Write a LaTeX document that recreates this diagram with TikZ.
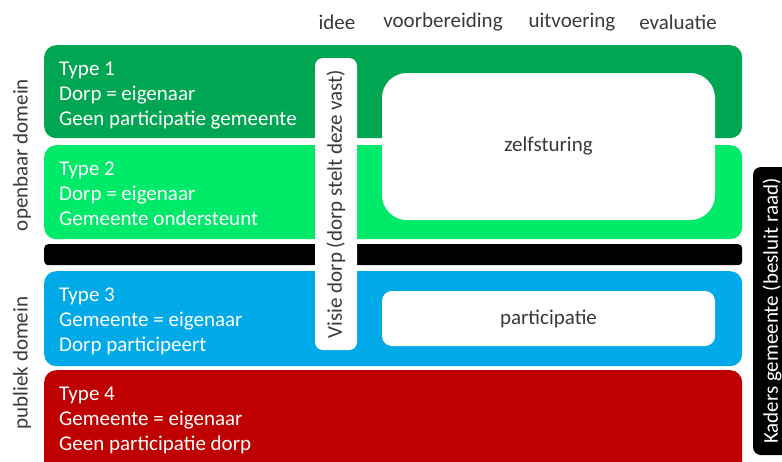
\documentclass[tikz,border=0pt]{standalone}
\usepackage{fontspec}
\setmainfont{Carlito}
\usepackage{tikz}
\usetikzlibrary{positioning}
\definecolor{typeone}{HTML}{00A651}
\definecolor{typetwo}{HTML}{00EA6A}
\definecolor{typethree}{HTML}{00AAE8}
\definecolor{typefour}{HTML}{BE0000}
\definecolor{txtgray}{HTML}{3A3A3A}
\tikzset{
  band/.style={rounded corners=12pt,minimum width=698pt,anchor=north west,inner sep=0pt},
  bandtxt/.style={anchor=north west,align=left,inner sep=0pt,text=white,font=\fontsize{21}{25}\selectfont},
  wbox/.style={fill=white,inner sep=0pt,text=txtgray,font=\fontsize{21}{24}\selectfont},
  lbl/.style={inner sep=0pt,text=txtgray,font=\fontsize{21}{24}\selectfont},
}

\begin{document}
\begin{tikzpicture}[x=1pt,y=-1pt]
\clip (0,0) rectangle (782,461);
\fill[white] (0,0) rectangle (782,461);
% phases along the top
\foreach \x/\p in {337/idee,443/voorbereiding,572/uitvoering,678/evaluatie}
  \node[lbl] (\p) at (\x,22) {\p};
% the four types
\foreach \n/\y/\h/\c in {1/45/93/typeone,2/145/94/typetwo,3/271/95/typethree,4/370/105/typefour}
  \node[band,fill=\c,minimum height=\h pt] (type\n) at (44,\y) {};
\node[band,fill=black,rounded corners=4pt,minimum height=21pt] (bar) at (44,244) {};
\node[bandtxt] (txt1) at ([xshift=15pt,yshift=-17pt]type1.north west) {Type 1\\Dorp = eigenaar\\Geen participatie gemeente};
\node[bandtxt] (txt2) at ([xshift=15pt,yshift=-17pt]type2.north west) {Type 2\\Dorp = eigenaar\\Gemeente ondersteunt};
\node[bandtxt] (txt3) at ([xshift=15pt,yshift=-17pt]type3.north west) {Type 3\\Gemeente = eigenaar\\Dorp participeert};
\node[bandtxt] (txt4) at ([xshift=15pt,yshift=-17pt]type4.north west) {Type 4\\Gemeente = eigenaar\\Geen participatie dorp};
% white boxes on top
\node[wbox,rounded corners=25pt,minimum width=333pt,minimum height=147pt] (zelf) at (548.5,146.5) {zelfsturing};
\node[wbox,rounded corners=10pt,minimum width=333pt,minimum height=55pt] (part) at (548.5,318.5) {participatie};
\node[wbox,rotate=90,rounded corners=8pt,minimum width=292pt,minimum height=42pt] (visie) at (336,204) {Visie dorp (dorp stelt deze vast)};
\node[wbox,fill=black,text=white,rotate=90,rounded corners=8pt,minimum width=288pt,minimum height=38pt] (kaders) at (772,311) {Kaders gemeente (besluit raad)};
% domains on the left
\node[lbl,rotate=90] (openbaar) at (22,155) {openbaar domein};
\node[lbl,rotate=90] (publiek) at (22,363) {publiek domein};
\end{tikzpicture}
\end{document}
